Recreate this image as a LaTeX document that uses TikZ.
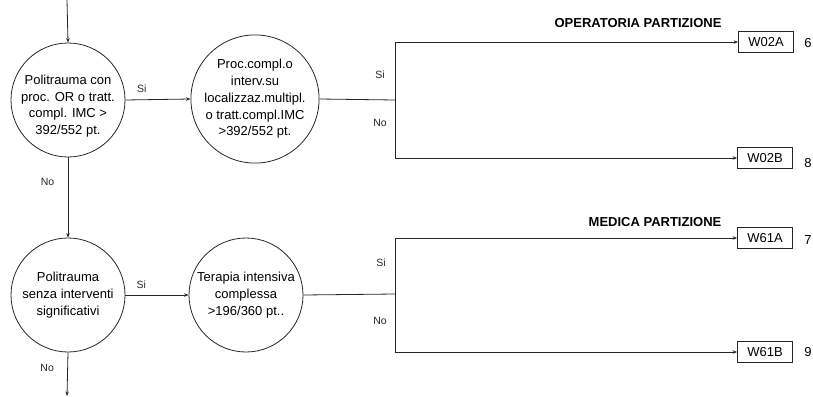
\documentclass[tikz,border=0pt]{standalone}
\usepackage{fontspec}
\setmainfont{Liberation Sans}
\usetikzlibrary{arrows.meta}
\begin{document}
\begin{tikzpicture}[x=1pt,y=-1pt,
  line/.style={draw=black!85, line width=0.8pt},
  arr/.style={line, -{Stealth[length=4.5pt,width=3.5pt]}},
  dec/.style={circle, draw=black!85, line width=0.8pt, minimum size=114pt, inner sep=0pt, align=center, font=\fontsize{13}{16.7}\selectfont},
  leaf/.style={draw=black!85, line width=0.8pt, minimum width=55pt, minimum height=21pt, inner sep=0pt, font=\fontsize{13}{15}\selectfont},
  lab/.style={font=\fontsize{10.5}{12}\selectfont, text=black!85},
  num/.style={font=\fontsize{13}{15}\selectfont},
  title/.style={font=\bfseries\fontsize{13}{15}\selectfont}]
\useasboundingbox (0,0) rectangle (813,396);

\coordinate (in) at (67,0);
\coordinate (out) at (67,396);

\node[dec] (c1) at (68,100) {};
\node[align=center, font=\fontsize{13}{16.7}\selectfont, inner sep=0pt] (c1t) at (68,106) {Politrauma con\\proc. OR o tratt.\\compl. IMC >\\392/552 pt.};
\node[dec, minimum size=120pt] (c2) at (255,99) {Proc.compl.o\\interv.su\\localizzaz.multipl.\\o tratt.compl.IMC\\>392/552 pt.};
\node[dec] (c3) at (68,295) {Politrauma\\senza interventi\\significativi};
\node[dec] (c4) at (246,295) {Terapia intensiva\\complessa\\>196/360 pt..};

\coordinate (j1) at (395,100);
\coordinate (j2) at (395,294);

\node[leaf] (w02a) at (766,42) {W02A};
\node[leaf] (w02b) at (765,158) {W02B};
\node[leaf] (w61a) at (765,238) {W61A};
\node[leaf] (w61b) at (765,352) {W61B};

\node[num] (n6) at (808,43) {6};
\node[num] (n8) at (808,163) {8};
\node[num] (n7) at (808,240) {7};
\node[num] (n9) at (808,352) {9};

\node[title] (t1) at (638,23) {OPERATORIA PARTIZIONE};
\node[title] (t2) at (655,222) {MEDICA PARTIZIONE};

\draw[arr] (in) -- (c1.north);
\draw[arr] (c1.east) -- node[lab, pos=0.25, above=3pt] {Si} (c2.west);
\draw[arr] (c1.south) -- node[lab, pos=0.3, left=10pt] {No} (c3.north);
\draw[arr] (c3.east) -- node[lab, pos=0.25, above=3pt] {Si} (c4.west);
\draw[arr] (c3.south) -- node[lab, pos=0.35, left=10pt] {No} (out);

\draw[line] (c2.east) -- (j1);
\draw[arr] (j1) |- (w02a.west);
\draw[arr] (j1) |- (w02b.west);
\draw[line] (c4.east) -- (j2);
\draw[arr] (j2) |- (w61a.west);
\draw[arr] (j2) |- (w61b.west);

\node[lab] (s1) at (380,75) {Si};
\node[lab] (o1) at (380,123) {No};
\node[lab] (s2) at (381,263) {Si};
\node[lab] (o2) at (380,321) {No};
\end{tikzpicture}
\end{document}
